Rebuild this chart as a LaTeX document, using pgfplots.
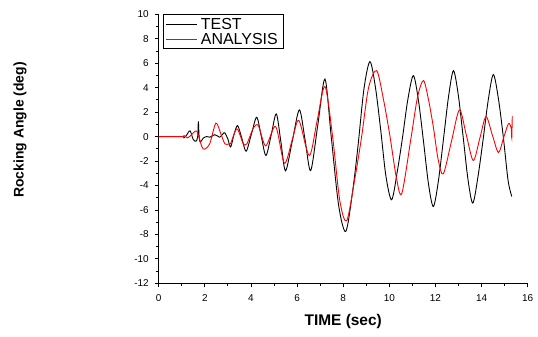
\documentclass[border=0pt]{standalone}
\usepackage{pgfplots}
\pgfplotsset{compat=1.18}
\usepackage{fontspec}
\setmainfont{Liberation Sans}
\begin{document}
\begin{tikzpicture}
\path[use as bounding box] (0,0) rectangle (538bp,337bp);
\begin{axis}[
  at={(158.7bp,53.7bp)}, anchor=south west,
  scale only axis, width=369bp, height=269bp,
  xmin=0, xmax=16, ymin=-12, ymax=10,
  axis lines=left, axis line style={-, line width=0.8pt},
  xtick={0,2,...,16}, ytick={-12,-10,...,10},
  minor xtick={1,3,...,15}, minor ytick={-11,-9,...,9},
  tick align=outside, major tick length=4bp, minor tick length=2.5bp,
  tick style={black, line width=0.8pt},
  /pgf/number format/assume math mode=true,
  ticklabel style={font=\fontsize{10}{12}\selectfont},
  xticklabel style={yshift=-4bp},
  yticklabel style={xshift=-2.5bp},
  xlabel={TIME (sec)}, ylabel={Rocking Angle (deg)},
  xlabel style={font=\fontsize{15.5}{18}\selectfont\bfseries, at={(axis description cs:0.5,-0.143)}, anchor=center},
  ylabel style={font=\fontsize{14}{16}\selectfont\bfseries, at={(axis description cs:-0.376,0.57)}, anchor=center, rotate=0},
  legend style={at={(axis description cs:0.012,1.0)}, anchor=north west, draw=black, line width=0.8pt,
    font=\fontsize{16}{18}\selectfont, inner xsep=2.5bp, inner ysep=1.2bp, row sep=-1.5bp, fill=white,
    nodes={inner xsep=3bp}},
  legend cell align=left,
  legend image code/.code={\draw[#1] (0,0) -- (31bp,0);},
]
\addplot[black, line width=0.9pt, smooth, tension=0.5] coordinates {
(0,0) (1.00,0) (1.10,-0.10) (1.22,0.15) (1.36,0.47) (1.50,-0.25) (1.62,-0.38) (1.69,0.0) (1.72,1.23) (1.75,0.1) (1.80,-0.45)
(1.93,-0.13) (2.08,0.0) (2.22,-0.05) (2.43,0.15) (2.55,0.05) (2.65,-0.05) (2.80,0.25) (2.87,0.3) (3.00,-0.2) (3.12,-0.85)
(3.27,0.2) (3.42,0.9) (3.60,-0.1) (3.79,-1.2) (4.02,0.2) (4.25,1.58) (4.45,0.0) (4.65,-1.55) (4.88,0.15) (5.10,1.85)
(5.30,-0.45) (5.50,-2.8) (5.80,-0.3) (6.10,2.18) (6.35,-0.3) (6.59,-2.78) (6.90,0.96) (7.21,4.70) (7.48,0.0) (7.80,-5.6)
(8.11,-7.76) (8.40,-4.6) (8.64,-0.8) (8.90,3.9) (9.16,6.13) (9.40,4.0) (9.63,0.48) (9.85,-3.2) (10.10,-5.17) (10.35,-2.8)
(10.57,-0.1) (10.80,3.0) (11.04,4.98) (11.26,3.0) (11.48,-0.37) (11.70,-3.9) (11.91,-5.72) (12.13,-3.6) (12.35,-0.17) (12.57,3.3)
(12.78,5.39) (12.99,3.4) (13.20,0.0) (13.41,-3.5) (13.62,-5.44) (13.85,-3.2) (14.07,-0.2) (14.29,3.0) (14.51,5.07) (14.73,3.1)
(14.94,0.0) (15.15,-3.6) (15.31,-4.9)
};
\addlegendentry{TEST}
\addplot[red, line width=0.9pt, smooth, tension=0.5] coordinates {
(0,0) (1.00,0) (1.10,0.08) (1.25,-0.1) (1.40,0.1) (1.65,0.44) (1.87,-0.82) (2.00,-1.03) (2.22,-0.55) (2.48,1.10)
(2.70,0.2) (2.87,-0.6) (3.05,-0.6) (3.12,-0.55) (3.38,0.63) (3.55,0.0) (3.67,-0.6) (3.82,-0.6) (4.10,0.67) (4.32,0.90)
(4.64,-0.76) (5.07,0.82) (5.45,-2.18) (5.80,-0.2) (6.08,1.31) (6.53,-1.55) (6.87,1.3) (7.21,4.09) (7.54,0.0) (7.85,-5.2)
(8.15,-6.89) (8.50,-3.5) (8.80,0.0) (9.10,4.0) (9.45,5.39) (9.75,3.0) (10.03,0.0) (10.30,-3.3) (10.54,-4.65) (10.95,0.0)
(11.22,3.2) (11.48,4.58) (11.70,3.0) (11.91,0.76) (12.12,-1.9) (12.34,-3.05) (12.69,-0.43) (13.04,2.18) (13.34,0.11) (13.64,-1.96)
(13.92,-0.17) (14.19,1.63) (14.46,0.17) (14.73,-1.3) (14.95,-0.13) (15.16,1.04) (15.28,0.75) (15.31,-0.1) (15.33,1.7)
};
\addlegendentry{ANALYSIS}
\end{axis}
\end{tikzpicture}
\end{document}
